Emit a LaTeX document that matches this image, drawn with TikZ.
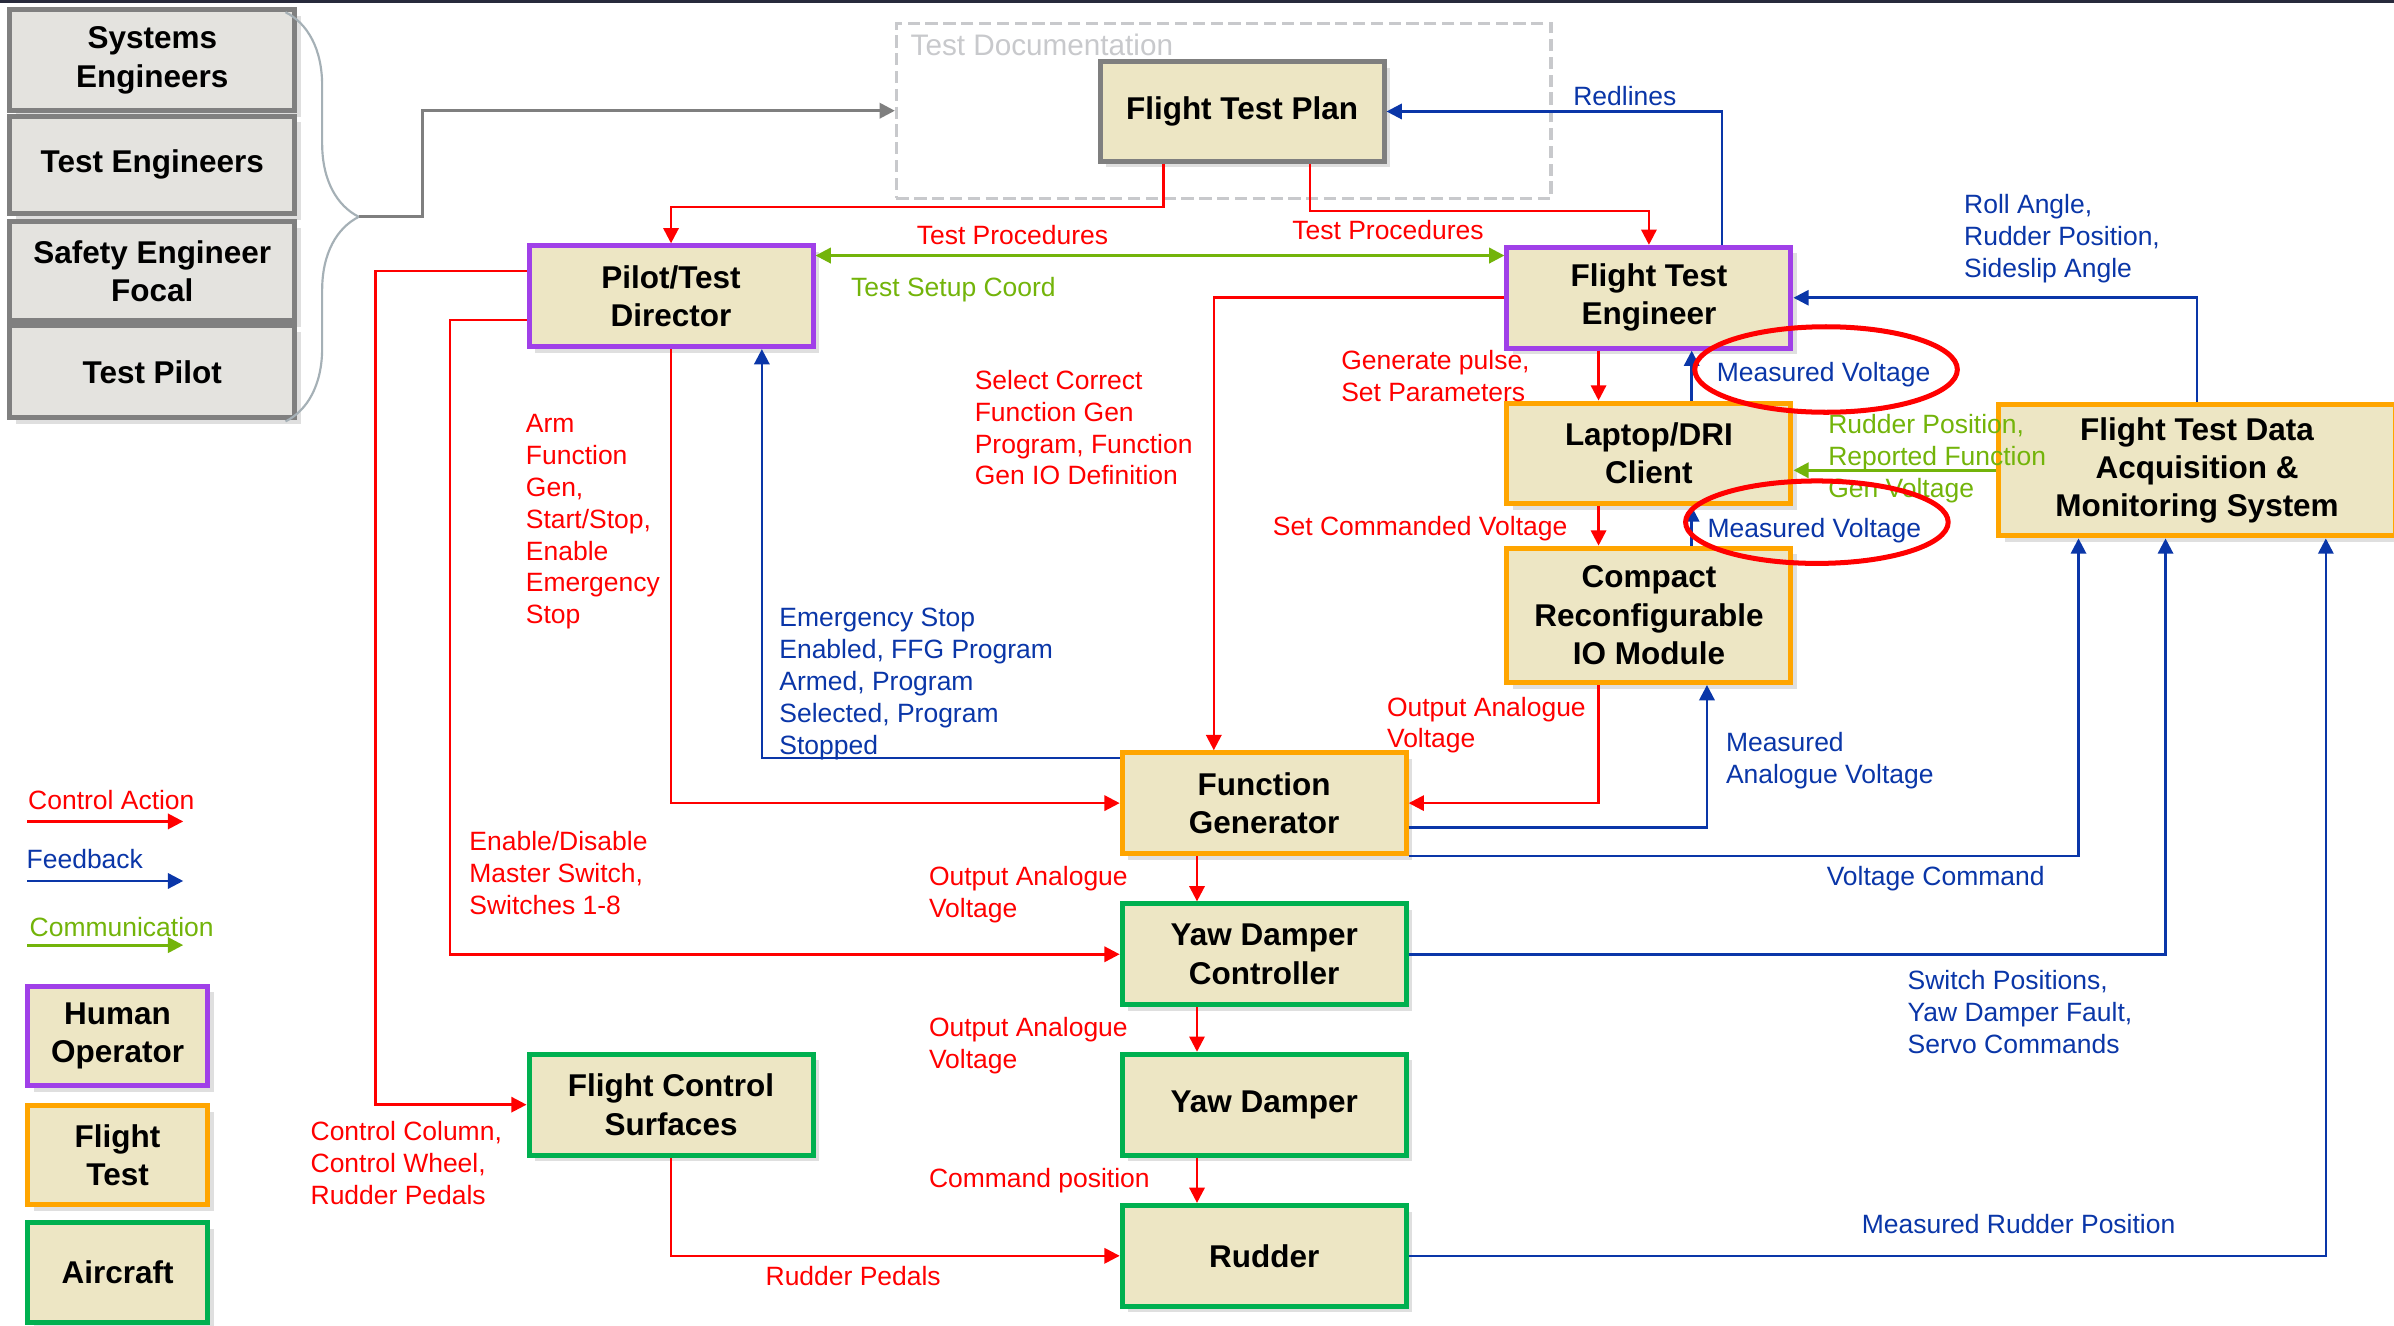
\documentclass[tikz,border=0pt]{standalone}
\usepackage{fontspec}
\setmainfont{Liberation Sans}
\usetikzlibrary{arrows.meta,calc,shadows,decorations.pathreplacing}
\definecolor{boxfill}{RGB}{237,230,196}
\definecolor{stackfill}{RGB}{228,227,223}
\definecolor{humanc}{RGB}{160,64,232}
\definecolor{flightc}{RGB}{255,165,0}
\definecolor{craftc}{RGB}{0,176,80}
\definecolor{planc}{RGB}{127,127,127}
\definecolor{staffc}{RGB}{128,128,128}
\definecolor{ctrlc}{RGB}{255,0,0}
\definecolor{fdbkc}{RGB}{10,54,168}
\definecolor{commc}{RGB}{115,180,10}
\definecolor{docc}{RGB}{200,201,204}
\definecolor{bracec}{RGB}{165,176,182}
\definecolor{topc}{RGB}{40,42,60}

\begin{document}
\begin{tikzpicture}[x=0.15mm,y=-0.15mm,
    box/.style={draw,fill=boxfill,line width=1.4pt,minimum width=27.9mm,minimum height=9.9mm,
      inner sep=1pt,align=center,font=\fontsize{8.8}{10.7}\selectfont\bfseries,
      drop shadow={shadow xshift=0.6mm,shadow yshift=-0.6mm,opacity=0.25}},
    human/.style={box,draw=humanc},
    flight/.style={box,draw=flightc},
    craft/.style={box,draw=craftc},
    plan/.style={box,draw=planc},
    staff/.style={box,draw=staffc,fill=stackfill,minimum width=28mm},
    keybox/.style={minimum width=17.7mm,minimum height=9.75mm},
    docbox/.style={draw=docc,line width=0.9pt,dash pattern=on 1.2mm off 0.55mm,
      minimum width=64.3mm,minimum height=17.2mm},
    lab/.style={anchor=north west,inner sep=0pt,align=left,font=\fontsize{7.4}{8.9}\selectfont},
    ctrl/.style={draw=ctrlc,line width=0.7pt,-{Triangle[length=1.5mm,width=1.5mm]}},
    fdbk/.style={draw=fdbkc,line width=0.7pt,-{Triangle[length=1.5mm,width=1.5mm]}},
    comm/.style={draw=commc,line width=0.8pt,-{Triangle[length=1.5mm,width=1.5mm]}},
    docarr/.style={draw=planc,line width=0.8pt,-{Triangle[length=1.5mm,width=1.5mm]}},
    ring/.style={draw=ctrlc,line width=1.4pt}]
  \useasboundingbox (0,0) rectangle (1568,868);
  \fill[white] (0,0) rectangle (1568,868);
  \draw[topc,line width=0.3mm] (0,1) -- (1568,1);

  \path
    (99.75,39.5) node[staff,minimum height=9.9mm] (syseng) {Systems\\Engineers}
    (99.75,108) node[staff,minimum height=9.6mm] (testeng) {Test Engineers}
    (99.75,177.5) node[staff,minimum height=9.75mm] (safety) {Safety Engineer\\Focal}
    (99.75,243.5) node[staff,minimum height=9mm] (pilot) {Test Pilot};

  \path
    (801.5,72.5) node[docbox] (tdoc) {}
    (596,22) node[anchor=north west,inner sep=0pt,text=docc,font=\fontsize{8.3}{10}\selectfont] (tdoclab) {Test Documentation}
    (813.5,73) node[plan,minimum height=9.75mm] (ftp) {Flight Test Plan}
    (439.5,194) node[human] (ptd) {Pilot/Test\\Director}
    (1080,195) node[human] (fte) {Flight Test\\Engineer}
    (1080,297) node[flight] (ldc) {Laptop/DRI\\Client}
    (1080,403) node[flight,minimum height=13.2mm] (crio) {Compact\\Reconfigurable\\IO Module}
    (1439,308) node[flight,minimum width=39mm,minimum height=12.9mm] (ftd) {Flight Test Data\\Acquisition \&\\Monitoring System}
    (828,526) node[flight] (fg) {Function\\Generator}
    (828,625) node[craft] (ydc) {Yaw Damper\\Controller}
    (439.5,723.5) node[craft] (fcs) {Flight Control\\Surfaces}
    (828,723.5) node[craft] (yd) {Yaw Damper}
    (828,822.5) node[craft] (rud) {Rudder}
    (77,678.5) node[human,keybox] (keyhum) {Human\\Operator}
    (77,756.5) node[flight,keybox] (keyflt) {Flight\\Test}
    (77,833.5) node[craft,keybox] (keyair) {Aircraft};

  \draw[bracec,line width=0.6pt,decorate,decoration={brace,amplitude=7.2mm}] (187,8) -- (187,276);
  \coordinate (bracetip) at (235,142);
  \draw[docarr] (bracetip) -- ++(42,0) |- (tdoc.west);

  \begin{scope}[every path/.append style={}]
    \draw[ctrl] ($(ftp.south)+(-51.5,0)$) -- ++(0,28.5) -| (ptd.north);
    \draw[ctrl] ($(ftp.south)+(44.5,0)$) -- ++(0,31) -| (fte.north);
    \draw[ctrl] ($(ptd.north west)+(0,18)$) -- ++(-99,0) |- (fcs.west);
    \draw[ctrl] ($(ptd.south west)+(0,-19)$) -- ++(-50,0) |- (ydc.west);
    \draw[ctrl] (ptd.south) |- (fg.west);
    \draw[ctrl] (fte.west) -| ($(fg.north)+(-33,0)$);
    \draw[ctrl] ($(fte.south)+(-33,0)$) -- ($(ldc.north)+(-33,0)$);
    \draw[ctrl] ($(ldc.south)+(-33,0)$) -- ($(crio.north)+(-33,0)$);
    \draw[ctrl] ($(crio.south)+(-33,0)$) |- (fg.east);
    \draw[ctrl] ($(fg.south)+(-44,0)$) -- ($(ydc.north)+(-44,0)$);
    \draw[ctrl] ($(ydc.south)+(-44,0)$) -- ($(yd.north)+(-44,0)$);
    \draw[ctrl] ($(yd.south)+(-44,0)$) -- ($(rud.north)+(-44,0)$);
    \draw[ctrl] (fcs.south) |- (rud.west);
  \end{scope}

  \begin{scope}
    \draw[fdbk] ($(fte.north)+(48,0)$) |- (ftp.east);
    \draw[fdbk] ($(fg.north west)+(0,5)$) -| ($(ptd.south)+(59.5,0)$);
    \draw[fdbk] ($(ldc.north)+(28,0)$) -- ($(fte.south)+(28,0)$);
    \draw[fdbk] ($(crio.north)+(28,0)$) -- ($(ldc.south)+(28,0)$);
    \draw[fdbk] (ftd.north) |- (fte.east);
    \draw[fdbk] ($(fg.east)+(0,16)$) -| ($(crio.south)+(38,0)$);
    \draw[fdbk] (fg.south east) -| ($(ftd.south west)+(54,0)$);
    \draw[fdbk] (ydc.east) -| ($(ftd.south west)+(111,0)$);
    \draw[fdbk] (rud.east) -| ($(ftd.south west)+(216,0)$);
  \end{scope}

  \begin{scope}
    \draw[comm,{Triangle[length=1.5mm,width=1.5mm]}-{Triangle[length=1.5mm,width=1.5mm]}]
      ($(ptd.north east)+(0,8)$) -- ($(fte.north west)+(0,7)$);
    \draw[comm] (ftd.west) -- (ftd.west -| ldc.east);
  \end{scope}

  \path
    (1030,56) node[lab,text=fdbkc] (lredl) {Redlines}
    (600,147) node[lab,text=ctrlc] (lproca) {Test Procedures}
    (846,144) node[lab,text=ctrlc] (lprocb) {Test Procedures}
    (557,181) node[lab,text=commc] (lsetup) {Test Setup Coord}
    (1286,127) node[lab,text=fdbkc] (lroll) {Roll Angle,\\Rudder Position,\\Sideslip Angle}
    (638,242) node[lab,text=ctrlc] (lselect) {Select Correct\\Function Gen\\Program, Function\\Gen IO Definition}
    (878,229) node[lab,text=ctrlc] (lpulse) {Generate pulse,\\Set Parameters}
    (1124,237) node[lab,text=fdbkc] (lmeasa) {Measured Voltage}
    (344,271) node[lab,text=ctrlc] (larm) {Arm\\Function\\Gen,\\Start/Stop,\\Enable\\Emergency\\Stop}
    (1197,271) node[lab,text=commc] (lrudpos) {Rudder Position,\\Reported Function\\Gen Voltage}
    (1027,338) node[lab,anchor=north east,text=ctrlc] (lsetcmd) {Set Commanded Voltage}
    (1118,339) node[lab,text=fdbkc] (lmeasb) {Measured Voltage}
    (510,398) node[lab,text=fdbkc] (lestop) {Emergency Stop\\Enabled, FFG Program\\Armed, Program\\Selected, Program\\Stopped}
    (908,456) node[lab,text=ctrlc] (loutcr) {Output Analogue\\Voltage}
    (1130,479) node[lab,text=fdbkc] (lmeasan) {Measured\\Analogue Voltage}
    (307,544) node[lab,text=ctrlc] (lenable) {Enable/Disable\\Master Switch,\\Switches 1-8}
    (608,567) node[lab,text=ctrlc] (loutfg) {Output Analogue\\Voltage}
    (1196,567) node[lab,text=fdbkc] (lvcmd) {Voltage Command}
    (1249,635) node[lab,text=fdbkc] (lswitch) {Switch Positions,\\Yaw Damper Fault,\\Servo Commands}
    (608,666) node[lab,text=ctrlc] (loutyd) {Output Analogue\\Voltage}
    (203,734) node[lab,text=ctrlc] (lcolumn) {Control Column,\\Control Wheel,\\Rudder Pedals}
    (608,765) node[lab,text=ctrlc] (lcmdpos) {Command position}
    (1219,795) node[lab,text=fdbkc] (lmeasrud) {Measured Rudder Position}
    (501,829) node[lab,text=ctrlc] (lpedals) {Rudder Pedals};

  \path
    (18,517) node[lab,text=ctrlc] (keyctrl) {Control Action}
    (17,556) node[lab,text=fdbkc] (keyfdbk) {Feedback}
    (19,600) node[lab,text=commc] (keycomm) {Communication};
  \coordinate (ctrla) at (18,538);
  \coordinate (ctrlb) at (120,538);
  \coordinate (fdbka) at (18,577);
  \coordinate (fdbkb) at (120,577);
  \coordinate (comma) at (18,619);
  \coordinate (commb) at (120,619);
  \draw[ctrl] (ctrla) -- (ctrlb);
  \draw[fdbk] (fdbka) -- (fdbkb);
  \draw[comm] (comma) -- (commb);

  \draw[ring] (1196,242) ellipse [x radius=12.9mm,y radius=4.2mm];
  \draw[ring] (1190,342) ellipse [x radius=12.9mm,y radius=4.05mm];
\end{tikzpicture}
\end{document}
